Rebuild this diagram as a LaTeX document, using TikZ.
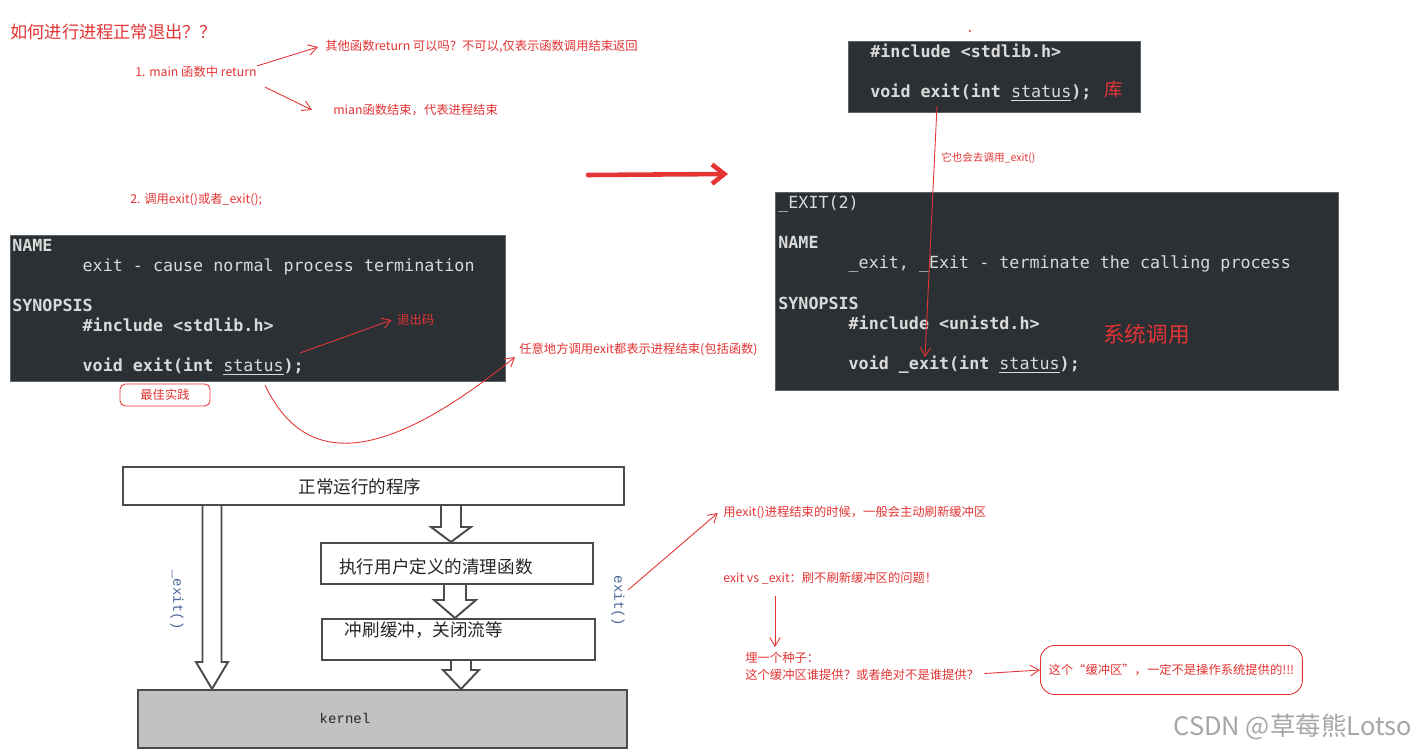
\documentclass[tikz,border=0pt]{standalone}
\usepackage{fontspec}
\setmonofont{DejaVu Sans Mono}
\newfontfamily\cjk{Noto Sans CJK SC}
\newfontfamily\kernfont{Liberation Mono}
\usetikzlibrary{arrows.meta, positioning, calc}
\definecolor{codebg}{RGB}{42,48,52}
\definecolor{codefg}{RGB}{218,218,218}
\definecolor{codeedge}{RGB}{95,100,104}
\definecolor{markred}{RGB}{228,52,52}
\definecolor{sideblue}{RGB}{72,100,150}
\definecolor{kernelgray}{RGB}{194,194,194}
\newcommand\codeind{\hspace*{4.214em}}
\tikzset{
  codebox/.style  = {rectangle, fill=codebg, draw=codeedge, line width=0.6pt, anchor=north west, inner sep=0pt},
  codetxt/.style  = {anchor=north west, inner sep=0pt, align=left, text=codefg, font=\ttfamily\fontsize{9.5}{11.45}\selectfont},
  note/.style     = {anchor=west, inner sep=0pt, text=markred, font=\cjk\fontsize{7}{9.6}\selectfont},
  bignote/.style  = {anchor=west, inner sep=0pt, text=markred, font=\cjk\fontsize{9.8}{12}\selectfont},
  redarr/.style   = {-{Straight Barb[length=5pt,width=6pt]}, markred, line width=0.5pt},
  bigarr/.style   = {-{Straight Barb[length=7pt,width=11pt]}, markred, line width=2.6pt, line cap=round},
  flowbox/.style  = {rectangle, draw=black!70, line width=1.1pt, fill=white, anchor=north west, inner sep=0pt},
  flowtxt/.style  = {inner sep=0pt, font=\cjk\fontsize{10}{12}\selectfont, text=black!85},
  sidelbl/.style  = {inner sep=0pt, rotate=-90, text=sideblue, font=\kernfont\fontsize{8}{10}\selectfont},
  hollow/.style n args = {3}{draw=black!70, line width=1.1pt, line join=miter,
    to path={($(\tikztostart)+(-#1,0)$) -- ($(\tikztotarget)+(-#1,-#3)$) -- ($(\tikztotarget)+(-#2,-#3)$)
      -- (\tikztotarget) -- ($(\tikztotarget)+(#2,-#3)$) -- ($(\tikztotarget)+(#1,-#3)$) -- ($(\tikztostart)+(#1,0)$)}},
}

\begin{document}
\begin{tikzpicture}[x=0.02cm, y=-0.02cm]
  \useasboundingbox (0,0) rectangle (1416,753);
  \fill[white] (0,0) rectangle (1416,753);

  % 左上：问题与两种方式
  \node[bignote] (title) at (10,32) {如何进行进程正常退出？？};
  \node[note] (ret) at (135,72) {1. main 函数中 return};
  \node[note] (other) at (325,47) {其他函数return 可以吗？不可以,仅表示函数调用结束返回};
  \node[note] (mainend) at (333,110) {mian函数结束，代表进程结束};
  \draw[redarr] (ret.north east) -- ([xshift=-4pt]other.west);
  \draw[redarr] ($(ret.south east)+(8,9)$) -- ([xshift=-12pt]mainend.west);
  \node[note] (call) at (130,200) {2. 调用exit()或者\_exit();};

  % exit(3) 手册
  \node[codebox, minimum width=9.9cm, minimum height=2.92cm] (man1) at (10,235) {};
  \node[codetxt] (man1txt) at (12,238.5) {\textbf{NAME}\\
    \codeind exit - cause normal process termination\\[11.45pt]
    \textbf{SYNOPSIS}\\
    \codeind\textbf{\#include <stdlib.h>}\\[11.45pt]
    \codeind\textbf{void exit(int \textmd{\underline{status}});}};
  \node[note] (exitcode) at (397,320) {退出码};
  \coordinate (statusend) at (300,353);
  \draw[redarr] (statusend) -- ([xshift=-3pt]exitcode.west);
  \node[note, anchor=center, draw=markred, rounded corners=3pt, minimum width=1.8cm, minimum height=0.44cm, line width=0.5pt] (best) at (165,395) {最佳实践};
  \node[note] (anywhere) at (519,349) {任意地方调用exit都表示进程结束(包括函数)};
  \coordinate (curvestart) at (265,385);
  \draw[redarr] (curvestart) .. controls (310,480) and (400,450) .. ([shift={(-4,8)}]anywhere.west);

  % 中间粗箭头
  \coordinate (bigfrom) at (588,175);
  \coordinate (bigto) at (728,174);
  \draw[bigarr] (bigfrom) -- (bigto);

  % 库函数 exit
  \fill[markred] (970,31) circle (1.2);
  \node[codebox, minimum width=5.84cm, minimum height=1.42cm] (lib) at (848,41) {};
  \node[codetxt] (libtxt) at (870,43.5) {\textbf{\#include <stdlib.h>}\\[11.45pt]
    \textbf{void exit(int \textmd{\underline{status}});}};
  \node[bignote, font=\cjk\fontsize{10.5}{12}\selectfont] (libmark) at (1104,90) {库};
  \node[note, font=\cjk\fontsize{6}{8}\selectfont] (alsocall) at (941,158) {它也会去调用\_exit()};

  % 系统调用 _exit
  \node[codebox, minimum width=11.26cm, minimum height=3.96cm] (sys) at (775,192) {};
  \node[codetxt] (systxt) at (778,195.5) {\_EXIT(2)\\[11.45pt]
    \textbf{NAME}\\
    \codeind\_exit, \_Exit - terminate the calling process\\[11.45pt]
    \textbf{SYNOPSIS}\\
    \codeind\textbf{\#include <unistd.h>}\\[11.45pt]
    \codeind\textbf{void \_exit(int \textmd{\underline{status}});}};
  \node[bignote, font=\cjk\fontsize{12.3}{14}\selectfont] (sysmark) at (1103,334) {系统调用};
  \coordinate (libcall) at (937,106);
  \coordinate (syscall) at (925,357);
  \draw[redarr] (libcall) -- (syscall);

  % 流程图
  \node[flowbox, minimum width=10.02cm, minimum height=0.76cm] (run) at (122,466) {};
  \node[flowtxt] (runtxt) at (360,487) {正常运行的程序};
  \node[flowbox, minimum width=5.44cm, minimum height=0.82cm] (clean) at (320,542) {};
  \node[flowtxt] (cleantxt) at (436,567) {执行用户定义的清理函数};
  \node[flowbox, minimum width=5.46cm, minimum height=0.82cm] (flushbox) at (321,618) {};
  \node[flowtxt] (flushtxt) at (424,630) {冲刷缓冲，关闭流等};
  \node[flowbox, fill=kernelgray, minimum width=9.78cm, minimum height=1.16cm] (kernel) at (137,689) {};
  \node[inner sep=0pt, font=\kernfont\fontsize{8}{10}\selectfont, text=black!85] (kerneltxt) at (345,718) {kernel};

  \coordinate (lt) at (run.south -| 212,0);
  \coordinate (lb) at (kernel.north -| 212,0);
  \draw[hollow={9.5}{16}{27}] (lt) to (lb);
  \coordinate (r1t) at (run.south -| 451,0);
  \coordinate (r1b) at (clean.north -| 451,0);
  \draw[hollow={10}{20}{15}] (r1t) to (r1b);
  \coordinate (r2t) at (clean.south -| 455,0);
  \coordinate (r2b) at (flushbox.north -| 455,0);
  \draw[hollow={11}{21}{18}] (r2t) to (r2b);
  \coordinate (r3t) at (flushbox.south -| 461,0);
  \coordinate (r3b) at (kernel.north -| 461,0);
  \draw[hollow={10}{18}{19}] (r3t) to (r3b);

  \node[sidelbl] (uexit) at (177,600) {\_exit()};
  \node[sidelbl] (exitlbl) at (618,601) {exit()};

  % 右下：缓冲区
  \node[note] (flush) at (723,513) {用exit()进程结束的时候，一般会主动刷新缓冲区};
  \coordinate (exitfrom) at (628,590);
  \draw[redarr] (exitfrom) -- ([xshift=-3pt]flush.west);
  \node[note] (exitvs) at (723,578) {exit vs \_exit：刷不刷新缓冲区的问题！};
  \node[note, align=left] (seed) at (745,666.5) {埋一个种子：\\这个缓冲区谁提供？或者绝对不是谁提供？};
  \draw[redarr] ($(exitvs.south -| 775,0)+(0,12)$) -- ($(seed.north -| 775,0)+(0,-5)$);
  \node[note, draw=markred, rounded corners=8pt, minimum width=5.24cm, minimum height=0.98cm, line width=0.5pt] (buffer) at (1040,670) {这个“缓冲区”，一定不是操作系统提供的!!!};
  \draw[redarr] ($(seed.east)+(5,7)$) -- (buffer.west);

  \node[anchor=east, inner sep=0pt, text=black!35, font=\cjk\fontsize{14.5}{16}\selectfont] (wm) at (1412,727) {CSDN @草莓熊Lotso};
\end{tikzpicture}
\end{document}
